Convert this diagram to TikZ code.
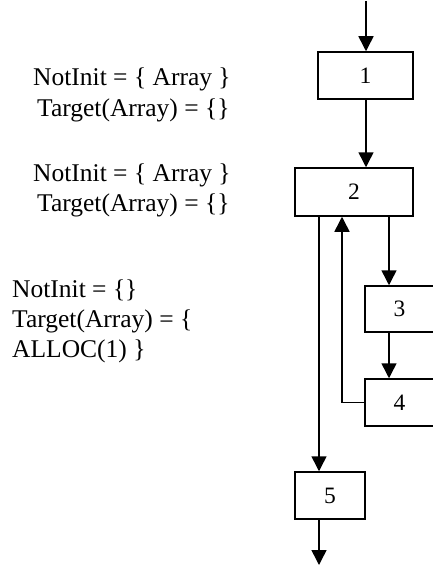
\documentclass[tikz,border=0pt]{standalone}
\usepackage{fontspec}
\setmainfont{Liberation Serif}
\usetikzlibrary{arrows.meta}
\begin{document}
\begin{tikzpicture}[x=1pt,y=-1pt,
  blk/.style={draw,line width=1.5pt,inner sep=0pt,minimum height=47pt,font=\fontsize{23.5}{23.5}\selectfont},
  arr/.style={line width=1.5pt,-{Triangle[width=15pt,length=15pt]}},
  lbl/.style={inner sep=0pt,anchor=base west,font=\fontsize{25.5}{30}\selectfont}]
\useasboundingbox (0,0) rectangle (433,567);
% boxes
\node[blk,minimum width=95pt] (b1) at (365.5,75.5) {1};
\node[blk,minimum width=118pt,minimum height=48pt] (b2) at (354,192) {2};
\node[blk,minimum width=69pt,minimum height=46pt] (b3) at (399.5,309) {3};
\node[blk,minimum width=69pt] (b4) at (399.5,402.5) {4};
\node[blk,minimum width=70pt] (b5) at (330,495.5) {5};
% helper coordinates
\coordinate (top) at (366,1);
\coordinate (r) at (389,0);
\coordinate (u) at (342,0);
\coordinate (l) at (319,0);
\coordinate (out) at (319,565);
% connectors
\draw[arr] (top) -- (top |- b1.north);
\draw[arr] (top |- b1.south) -- (top |- b2.north);
\draw[arr] (r |- b2.south) -- (r |- b3.north);
\draw[arr] (r |- b3.south) -- (r |- b4.north);
\draw[arr] (b4.west) -| (u |- b2.south);
\draw[arr] (l |- b2.south) -- (l |- b5.north);
\draw[arr] (l |- b5.south) -- (out);
% labels
\node[lbl] (t1a) at (33,86) {NotInit = \{ Array \}};
\node[lbl] (t1b) at (37,117) {Target(Array) = \{\}};
\node[lbl] (t2a) at (33,181.5) {NotInit = \{ Array \}};
\node[lbl] (t2b) at (37,211.5) {Target(Array) = \{\}};
\node[lbl] (t3a) at (12,297) {NotInit = \{\}};
\node[lbl] (t3b) at (12,327) {Target(Array) = \{};
\node[lbl] (t3c) at (12,357) {ALLOC(1) \}};
\end{tikzpicture}
\end{document}
